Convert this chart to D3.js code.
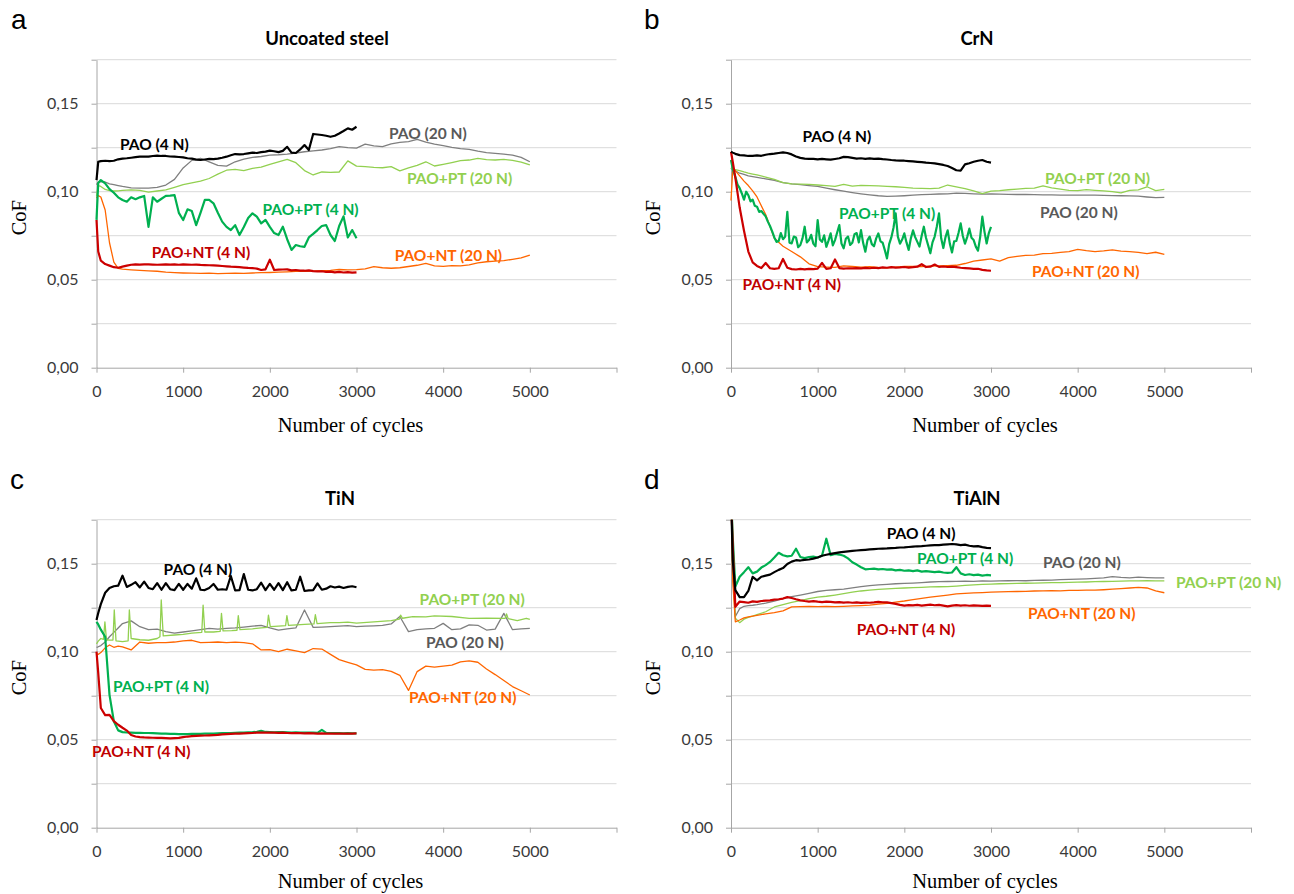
<!DOCTYPE html>
<html>
<head>
<meta charset="utf-8">
<script src="https://cdn.jsdelivr.net/npm/d3@7"></script>
<style>
  body { margin: 0; background: #fff; }
  svg { display: block; }
</style>
</head>
<body>
<svg id="fig" width="1294" height="894"></svg>
<script>
// sampling grids (cycles): 4 N tests run to 3000, 20 N tests run to 5000
const cycles4N = [0,20,50,100,150,200,250,300,350,400,
  450,500,550,600,650,700,750,800,850,900,
  950,1000,1050,1100,1150,1200,1250,1300,1350,1400,
  1450,1500,1550,1600,1650,1700,1750,1800,1850,1900,
  1950,2000,2050,2100,2150,2200,2250,2300,2350,2400,
  2450,2500,2550,2600,2650,2700,2750,2800,2850,2900,
  2950,3000];
const cycles20N = [0,20,50,100,150,200,250,300,400,500,
  600,700,800,900,1000,1100,1200,1300,1400,1500,
  1600,1700,1800,1900,2000,2100,2200,2300,2400,2500,
  2600,2700,2800,2900,3000,3100,3200,3300,3400,3500,
  3600,3700,3800,3900,4000,4100,4200,4300,4400,4500,
  4600,4700,4800,4900,5000];

const seriesNames = ["PAO (4 N)","PAO (20 N)","PAO+PT (4 N)","PAO+PT (20 N)","PAO+NT (4 N)","PAO+NT (20 N)"];
const seriesLoads = [4,20,4,20,4,20];
const lineColors = ["#000000","#7f7f7f","#00b050","#92d050","#cc0000","#ff6600"];
const labelColors = ["#000000","#595959","#00b050","#92d050","#c00000","#ff6600"];

const yTicks = [0,0.025,0.05,0.075,0.1,0.125,0.15,0.175];
const yLabelled = [0,0.05,0.1,0.15];
const xTicks = [0,1000,2000,3000,4000,5000,6000];

// ---- a: uncoated steel
const steelPAO4 = [0.1066,0.117,0.1174,0.1176,0.1174,0.1176,0.1184,0.1188,0.119,0.1193,
  0.1196,0.1199,0.120,0.1199,0.1203,0.1205,0.1203,0.1203,0.120,0.1199,
  0.1197,0.1195,0.119,0.1188,0.1182,0.118,0.1183,0.1186,0.1185,0.1188,
  0.1193,0.1199,0.1207,0.1214,0.1212,0.1214,0.1218,0.1222,0.122,0.1225,
  0.1228,0.1233,0.123,0.1225,0.1232,0.1255,0.1222,0.122,0.124,0.1265,
  0.1237,0.1328,0.1325,0.1322,0.1318,0.1312,0.1318,0.1331,0.1345,0.136,
  0.1352,0.1369];
const steelPAO20 = [0.104,0.1055,0.1058,0.1055,0.1045,0.104,0.1035,0.103,0.1022,0.102,
  0.102,0.1024,0.1038,0.107,0.1135,0.1178,0.119,0.117,0.115,0.1145,
  0.117,0.1185,0.1195,0.120,0.1208,0.121,0.1214,0.122,0.1227,0.1232,
  0.1237,0.1245,0.1256,0.125,0.1248,0.127,0.126,0.1256,0.1272,0.128,
  0.1284,0.1297,0.1282,0.127,0.1262,0.1252,0.1245,0.124,0.123,0.1222,
  0.1218,0.1214,0.1208,0.1195,0.117];
const steelPT4 = [0.084,0.105,0.1066,0.1047,0.1015,0.0994,0.0968,0.0953,0.0943,0.0968,
  0.0957,0.0968,0.0976,0.080,0.0968,0.0943,0.096,0.0976,0.0978,0.0981,
  0.088,0.0839,0.090,0.089,0.081,0.088,0.0953,0.0953,0.0934,0.088,
  0.083,0.080,0.0782,0.081,0.0754,0.080,0.085,0.0877,0.0858,0.082,
  0.084,0.080,0.0765,0.0754,0.0801,0.073,0.0669,0.0697,0.069,0.0687,
  0.074,0.076,0.0782,0.0805,0.081,0.0754,0.072,0.0805,0.086,0.074,
  0.0782,0.0735];
const steelPT20 = [0.0975,0.1035,0.103,0.1013,0.1006,0.1004,0.1005,0.1008,0.101,0.1008,
  0.0998,0.1004,0.101,0.1025,0.104,0.105,0.106,0.1075,0.110,0.1122,
  0.1127,0.112,0.1133,0.114,0.1155,0.117,0.1184,0.1165,0.112,0.1095,
  0.1112,0.111,0.1112,0.1175,0.1145,0.1142,0.1138,0.1136,0.1142,0.1118,
  0.1135,0.115,0.117,0.1146,0.1155,0.1165,0.1176,0.118,0.1189,0.1182,
  0.118,0.1184,0.1178,0.1168,0.1152];
const steelNT4 = [0.0839,0.066,0.0608,0.0589,0.058,0.0571,0.0568,0.0574,0.058,0.0585,
  0.0587,0.0586,0.0587,0.0587,0.0586,0.0585,0.0586,0.0587,0.0586,0.0587,
  0.0585,0.0587,0.0586,0.0585,0.0586,0.0584,0.0583,0.0582,0.0581,0.058,
  0.0578,0.0576,0.0574,0.0573,0.0571,0.0569,0.0567,0.0566,0.0563,0.0555,
  0.0559,0.0614,0.0555,0.0557,0.0558,0.0559,0.0553,0.0555,0.0552,0.0551,
  0.0553,0.0549,0.0547,0.0548,0.0544,0.0546,0.0542,0.0544,0.0541,0.0543,
  0.054,0.0542];
const steelNT20 = [0.0965,0.0978,0.097,0.0896,0.071,0.060,0.0565,0.056,0.0556,0.0553,
  0.055,0.0548,0.0543,0.054,0.0538,0.0537,0.0536,0.0537,0.0535,0.0536,
  0.0537,0.0536,0.0538,0.054,0.0541,0.0543,0.0545,0.0547,0.0548,0.0549,
  0.0551,0.0553,0.0558,0.0556,0.0557,0.0562,0.0574,0.0568,0.0565,0.0568,
  0.0575,0.0582,0.0593,0.0578,0.0576,0.058,0.0578,0.0584,0.0595,0.0602,
  0.0605,0.0608,0.0616,0.0624,0.064];
const steelLabelAt = [[271,0.1271],[3375,0.1332],[1915,0.090],[3583,0.1076],[638,0.0659],[3440,0.064]];

// ---- b: CrN
const crnPAO4 = [0.1227,0.1222,0.1215,0.1208,0.1206,0.1203,0.1204,0.1206,0.1204,0.121,
  0.1214,0.1216,0.122,0.1223,0.122,0.1212,0.12,0.1192,0.1188,0.1186,
  0.1186,0.1184,0.1186,0.1184,0.1182,0.1186,0.119,0.1198,0.1196,0.1192,
  0.1188,0.119,0.1187,0.1189,0.1186,0.1188,0.1185,0.1183,0.118,0.1178,
  0.1177,0.1176,0.1174,0.1172,0.117,0.1168,0.1165,0.1163,0.1161,0.1157,
  0.1152,0.1146,0.1135,0.1122,0.112,0.1155,0.1162,0.117,0.1176,0.118,
  0.117,0.1165];
const crnPAO20 = [0.1135,0.1125,0.1118,0.1105,0.1098,0.109,0.1086,0.1082,0.1073,0.1065,
  0.1052,0.1045,0.104,0.1035,0.103,0.102,0.1011,0.1003,0.0995,0.0988,
  0.0982,0.0977,0.0974,0.0975,0.0977,0.098,0.0983,0.0985,0.0987,0.0988,
  0.0992,0.099,0.0988,0.0986,0.0987,0.0986,0.0985,0.0984,0.0984,0.0983,
  0.0982,0.0982,0.0981,0.0981,0.098,0.0981,0.098,0.0979,0.0978,0.0977,
  0.0976,0.0975,0.097,0.0966,0.0968];
// PAO+PT (4 N) on CrN is very noisy, so it is read at a finer step
const crnPT4Cycles = [0,20,50,75,100,125,150,175,200,225,
  250,275,300,325,350,375,400,425,450,475,
  500,525,550,575,600,625,650,675,700,725,
  750,775,800,825,850,875,900,925,950,975,
  1000,1025,1050,1075,1100,1125,1150,1175,1200,1225,
  1250,1275,1300,1325,1350,1375,1400,1425,1450,1475,
  1500,1525,1550,1575,1600,1625,1650,1675,1700,1725,
  1750,1775,1800,1825,1850,1875,1900,1925,1950,1975,
  2000,2025,2050,2075,2100,2125,2150,2175,2200,2225,
  2250,2275,2300,2325,2350,2375,2400,2425,2450,2475,
  2500,2525,2550,2575,2600,2625,2650,2675,2700,2725,
  2750,2775,2800,2825,2850,2875,2900,2925,2950,2975,
  3000];
const crnPT4 = [0.118,0.113,0.1085,0.104,0.102,0.099,0.0955,0.1,0.098,0.0945,
  0.0955,0.092,0.0915,0.0885,0.089,0.0875,0.086,0.083,0.0805,0.0775,
  0.074,0.0715,0.072,0.0765,0.073,0.0745,0.0886,0.071,0.0706,0.0745,
  0.074,0.0685,0.0697,0.0735,0.0801,0.0712,0.0725,0.0755,0.0705,0.069,
  0.0839,0.0728,0.0715,0.0752,0.0687,0.0722,0.0763,0.0695,0.0725,0.0768,
  0.081,0.0705,0.0678,0.0732,0.0745,0.0698,0.071,0.0758,0.0765,0.0712,
  0.0782,0.0708,0.0659,0.0725,0.0745,0.0702,0.069,0.0735,0.0763,0.0718,
  0.071,0.0668,0.0621,0.0702,0.074,0.0795,0.0877,0.0745,0.0705,0.0728,
  0.0763,0.0712,0.0669,0.0735,0.078,0.0742,0.0715,0.0688,0.075,0.0801,
  0.0738,0.0695,0.065,0.0712,0.0745,0.0802,0.0877,0.0735,0.068,0.0742,
  0.078,0.0705,0.0655,0.0718,0.072,0.0765,0.082,0.0748,0.0705,0.0742,
  0.079,0.0738,0.0725,0.0688,0.0665,0.0742,0.0858,0.0772,0.0706,0.0765,
  0.080];
const crnPT20 = [0.1135,0.1128,0.1125,0.112,0.1112,0.1105,0.11,0.1095,0.1083,0.107,
  0.1052,0.1045,0.1043,0.1042,0.1038,0.1035,0.103,0.1042,0.1032,0.1036,
  0.1035,0.1033,0.103,0.1028,0.1024,0.102,0.1019,0.1018,0.102,0.1038,
  0.1028,0.1018,0.1005,0.0989,0.1003,0.1006,0.1011,0.1015,0.1019,0.102,
  0.1033,0.1022,0.1015,0.1008,0.1006,0.1012,0.1008,0.1005,0.1001,0.0993,
  0.1008,0.101,0.1028,0.1006,0.1013];
const crnNT4 = [0.1227,0.117,0.108,0.091,0.0778,0.066,0.0598,0.0578,0.0566,0.0595,
  0.0565,0.0562,0.0565,0.0618,0.0568,0.056,0.0558,0.0561,0.0559,0.0562,
  0.056,0.0563,0.0595,0.0561,0.0565,0.0615,0.0566,0.0563,0.0565,0.0564,
  0.0566,0.0564,0.0567,0.0565,0.0568,0.0566,0.057,0.0568,0.0571,0.0569,
  0.057,0.0572,0.0569,0.0571,0.0574,0.0588,0.0572,0.0574,0.0586,0.0573,
  0.0575,0.0572,0.0574,0.0571,0.0568,0.0566,0.0564,0.0562,0.0562,0.0556,
  0.0553,0.0551];
const crnNT20 = [0.095,0.1125,0.112,0.109,0.106,0.1035,0.1005,0.097,0.087,0.0735,
  0.069,0.066,0.063,0.059,0.0574,0.0572,0.057,0.0578,0.0575,0.0572,
  0.0574,0.057,0.0568,0.0572,0.0576,0.0575,0.0574,0.0577,0.0578,0.058,
  0.0582,0.0592,0.0605,0.0612,0.0618,0.0605,0.0625,0.0632,0.0638,0.064,
  0.0648,0.065,0.0655,0.066,0.0672,0.0665,0.066,0.0664,0.067,0.0662,
  0.066,0.0655,0.0648,0.0656,0.0644];
const crnLabelAt = [[825,0.1316],[3565,0.0886],[1246,0.0881],[3623,0.108],[133,0.0474],[3473,0.0549]];

// ---- c: TiN
const tinPAO4 = [0.118,0.122,0.127,0.1335,0.1362,0.1372,0.1375,0.1432,0.1368,0.138,
  0.1395,0.1365,0.1398,0.1362,0.1355,0.139,0.1352,0.139,0.1355,0.135,
  0.1385,0.1352,0.1385,0.1358,0.1417,0.1352,0.135,0.1362,0.1385,0.1352,
  0.1355,0.1352,0.143,0.1348,0.135,0.1441,0.1352,0.1348,0.1355,0.1392,
  0.135,0.1385,0.1352,0.139,0.135,0.1395,0.1348,0.1352,0.1426,0.1345,
  0.1348,0.135,0.1388,0.1352,0.1358,0.1372,0.1365,0.137,0.1362,0.1368,
  0.1372,0.1366];
const tinPAO20 = [0.1025,0.1028,0.1035,0.1055,0.1085,0.111,0.1135,0.116,0.1175,0.1142,
  0.1125,0.1128,0.1114,0.1105,0.1112,0.1118,0.1125,0.1133,0.1128,0.1132,
  0.1135,0.114,0.1145,0.115,0.1135,0.1123,0.113,0.1135,0.1237,0.1138,
  0.114,0.1142,0.1145,0.1148,0.1142,0.1145,0.1147,0.115,0.1158,0.12,
  0.1114,0.1125,0.113,0.1133,0.1161,0.1125,0.113,0.1152,0.115,0.1123,
  0.1128,0.1218,0.1125,0.113,0.1133];
const tinPT4 = [0.117,0.1155,0.1125,0.1085,0.0755,0.0605,0.0553,0.0543,0.0541,0.054,
  0.0539,0.0539,0.0538,0.0538,0.0537,0.0536,0.0535,0.0534,0.0533,0.0533,
  0.0532,0.0532,0.0532,0.0533,0.0533,0.0533,0.0534,0.0534,0.0535,0.0536,
  0.0537,0.0538,0.0538,0.0539,0.054,0.0541,0.0542,0.0543,0.0545,0.055,
  0.0544,0.0543,0.0542,0.0543,0.0543,0.0542,0.0541,0.0542,0.0541,0.054,
  0.0541,0.054,0.0539,0.0556,0.0539,0.0538,0.0537,0.0537,0.0536,0.0537,
  0.0536,0.0536];
// PAO+PT (20 N) on TiN has narrow periodic spikes, so it keeps its own sample points
const tinPT20Cycles = [0,20,50,80,97,115,150,190,205,225,
  300,365,379,400,500,600,700,732,747,770,
  900,1000,1100,1215,1230,1250,1350,1427,1442,1460,
  1560,1621,1636,1655,1800,1900,1969,1984,2005,2100,
  2182,2197,2215,2400,2510,2525,2545,2700,2800,2900,
  3000,3200,3400,3495,3509,3530,3650,3800,3900,4100,
  4300,4500,4716,4731,4750,4855,4959,5000];
const tinPT20 = [0.1045,0.106,0.1075,0.107,0.117,0.1068,0.1066,0.1066,0.1237,0.1062,
  0.1057,0.1062,0.1237,0.1075,0.1068,0.1065,0.1075,0.1085,0.1294,0.109,
  0.1095,0.1098,0.1105,0.111,0.1265,0.1112,0.1112,0.1115,0.1218,0.1118,
  0.112,0.1122,0.1205,0.1125,0.113,0.1135,0.1138,0.1208,0.1142,0.1145,
  0.1148,0.1205,0.115,0.1155,0.1158,0.121,0.116,0.1165,0.1165,0.1168,
  0.1162,0.117,0.1176,0.1185,0.1208,0.119,0.1199,0.1198,0.1203,0.12,
  0.1189,0.119,0.1189,0.1215,0.1188,0.1176,0.119,0.1184];
const tinNT4 = [0.100,0.088,0.068,0.064,0.0641,0.0605,0.0585,0.0568,0.0552,0.0527,
  0.0518,0.0515,0.0513,0.0512,0.0511,0.051,0.051,0.0509,0.0508,0.0509,
  0.051,0.0515,0.0518,0.052,0.0522,0.0523,0.0524,0.0525,0.0526,0.0527,
  0.053,0.0532,0.0533,0.0534,0.0535,0.0536,0.0537,0.0538,0.054,0.0541,
  0.054,0.0541,0.054,0.0539,0.054,0.0538,0.0537,0.0538,0.0537,0.0536,
  0.0537,0.0536,0.0535,0.0536,0.0535,0.0534,0.0535,0.0535,0.0534,0.0535,
  0.0535,0.0536];
const tinNT20 = [0.0987,0.0985,0.0995,0.1022,0.1038,0.1025,0.1032,0.1028,0.101,0.1055,
  0.1048,0.1051,0.1052,0.1055,0.1062,0.1065,0.1052,0.1053,0.1055,0.1052,
  0.1054,0.1052,0.1045,0.101,0.1012,0.100,0.1014,0.1005,0.0995,0.1018,
  0.1015,0.0985,0.0955,0.094,0.0925,0.090,0.0895,0.0898,0.0888,0.0866,
  0.078,0.0887,0.0918,0.0912,0.0918,0.0924,0.0942,0.0948,0.094,0.0902,
  0.087,0.0836,0.0802,0.0778,0.0754];
const tinLabelAt = [[774,0.147],[3802,0.1057],[189,0.0805],[3728,0.1298],[-52,0.0436],[3606,0.0744]];

// ---- d: TiAlN
const tialnPAO4 = [0.19,0.152,0.135,0.131,0.131,0.1345,0.1425,0.1405,0.1426,0.1432,
  0.1438,0.1452,0.1465,0.1475,0.1498,0.1512,0.152,0.1518,0.1522,0.1524,
  0.1529,0.1535,0.1545,0.1551,0.1556,0.156,0.1564,0.1567,0.157,0.1573,
  0.1575,0.1577,0.1579,0.1581,0.1583,0.1585,0.1586,0.1587,0.1589,0.159,
  0.1592,0.1593,0.1595,0.1597,0.1599,0.16,0.1602,0.1604,0.1605,0.1606,
  0.1608,0.161,0.1612,0.161,0.1606,0.1608,0.1602,0.1598,0.16,0.1594,
  0.159,0.1588];
const tialnPAO20 = [0.19,0.15,0.12,0.1245,0.1258,0.1262,0.1264,0.1267,0.1276,0.1287,
  0.1302,0.1313,0.1322,0.1332,0.1342,0.1348,0.1352,0.1356,0.1363,0.137,
  0.1376,0.138,0.1383,0.1386,0.1388,0.139,0.1393,0.1396,0.1398,0.1399,
  0.14,0.1401,0.14,0.1402,0.1401,0.1402,0.1403,0.1404,0.1403,0.1405,
  0.1406,0.1407,0.141,0.1411,0.1412,0.1414,0.1417,0.142,0.1426,0.1422,
  0.142,0.1424,0.1421,0.1419,0.142];
const tialnPT4 = [0.19,0.165,0.137,0.1426,0.1452,0.148,0.1445,0.1455,0.1478,0.1492,
  0.151,0.1535,0.1562,0.1548,0.1542,0.1545,0.1585,0.1538,0.1532,0.1538,
  0.154,0.1535,0.1545,0.1642,0.1548,0.1556,0.1552,0.1545,0.153,0.1508,
  0.1495,0.148,0.1468,0.147,0.1472,0.1468,0.147,0.1466,0.1468,0.1462,
  0.1465,0.146,0.1462,0.1458,0.1462,0.1455,0.1458,0.1455,0.1452,0.1455,
  0.145,0.1448,0.145,0.148,0.1445,0.1436,0.144,0.1435,0.1438,0.1432,
  0.1436,0.1434];
const tialnPT20 = [0.19,0.145,0.119,0.1165,0.1185,0.1195,0.1202,0.121,0.1227,0.1254,
  0.1268,0.128,0.129,0.1302,0.131,0.1315,0.1322,0.133,0.1338,0.1345,
  0.135,0.1354,0.1357,0.136,0.1362,0.1364,0.1366,0.1368,0.1369,0.137,
  0.1373,0.1377,0.138,0.1382,0.1384,0.1386,0.1387,0.1388,0.1389,0.139,
  0.1391,0.1392,0.1393,0.1394,0.1395,0.1396,0.1398,0.1399,0.14,0.1401,
  0.1402,0.1402,0.1403,0.1402,0.1402];
const tialnNT4 = [0.19,0.16,0.1255,0.1285,0.1282,0.1278,0.1286,0.1283,0.1288,0.129,
  0.1292,0.1296,0.1298,0.1302,0.131,0.1305,0.1298,0.1292,0.1288,0.1285,
  0.1287,0.1284,0.1282,0.1285,0.1283,0.128,0.1282,0.1279,0.1281,0.1278,
  0.128,0.1277,0.1279,0.1278,0.128,0.1283,0.1281,0.128,0.1276,0.1272,
  0.1266,0.1262,0.1265,0.1263,0.1266,0.1262,0.1265,0.1267,0.1264,0.1266,
  0.1262,0.1258,0.1262,0.1265,0.1262,0.1264,0.1261,0.1263,0.1262,0.126,
  0.1262,0.126];
const tialnNT20 = [0.19,0.14,0.117,0.118,0.1192,0.1198,0.1202,0.1206,0.1215,0.1222,
  0.1232,0.1255,0.1256,0.1257,0.1256,0.1257,0.1256,0.1258,0.126,0.1262,
  0.1265,0.127,0.1275,0.1282,0.1288,0.1296,0.1303,0.131,0.1316,0.1322,
  0.1328,0.1331,0.1334,0.1336,0.1338,0.134,0.1341,0.1342,0.1343,0.1345,
  0.1346,0.1347,0.1346,0.1348,0.1349,0.135,0.135,0.1352,0.1355,0.1358,
  0.1362,0.1366,0.1362,0.1345,0.1335];
const tialnLabelAt = [[1797,0.1673],[3600,0.1508],[2146,0.1531],[5135,0.1398],[1450,0.1129],[3427,0.1218]];

// panel layout (pixels)
const PW = 520, PH = 308;
const panels = [
  {letter:"a", title:"Uncoated steel", left:96.5, top:59.7, titleX:327, letterX:11, xTitleGap:64,
   series:[steelPAO4,steelPAO20,steelPT4,steelPT20,steelNT4,steelNT20], labels:steelLabelAt, cyclesFor:{}},
  {letter:"b", title:"CrN", left:731, top:59.7, titleX:977, letterX:644, xTitleGap:64,
   series:[crnPAO4,crnPAO20,crnPT4,crnPT20,crnNT4,crnNT20], labels:crnLabelAt, cyclesFor:{2: crnPT4Cycles}},
  {letter:"c", title:"TiN", left:96.5, top:519.7, titleX:340, letterX:10, xTitleGap:60,
   series:[tinPAO4,tinPAO20,tinPT4,tinPT20,tinNT4,tinNT20], labels:tinLabelAt, cyclesFor:{3: tinPT20Cycles}},
  {letter:"d", title:"TiAlN", left:731, top:519.7, titleX:977, letterX:644, xTitleGap:60,
   series:[tialnPAO4,tialnPAO20,tialnPT4,tialnPT20,tialnNT4,tialnNT20], labels:tialnLabelAt, cyclesFor:{}}
];
const drawOrder = [1,3,5,2,4,0];

const svg = d3.select("#fig");
const fmtY = d => d3.format(".2f")(d).replace(".", ",");

panels.forEach((p, pi) => {
  const x = d3.scaleLinear().domain([0, 6000]).range([p.left, p.left + PW]);
  const y = d3.scaleLinear().domain([0, 0.175]).range([p.top + PH, p.top]);
  const g = svg.append("g");

  // horizontal gridlines
  g.append("g").selectAll("line")
    .data(yTicks.slice(1)).join("line")
    .attr("x1", x(0)).attr("x2", x(6000))
    .attr("y1", d => y(d)).attr("y2", d => y(d))
    .attr("stroke", "#d9d9d9").attr("stroke-width", 1);

  // axes
  const yAxis = d3.axisLeft(y).tickValues(yTicks).tickSize(5).tickSizeOuter(0).tickPadding(13)
    .tickFormat(d => yLabelled.includes(d) ? fmtY(d) : "");
  const xAxis = d3.axisBottom(x).tickValues(xTicks).tickSize(5).tickSizeOuter(0).tickPadding(13)
    .tickFormat(d => d === 6000 ? "" : d);
  const ya = g.append("g").attr("transform", `translate(${x(0)},0)`).call(yAxis);
  const xa = g.append("g").attr("transform", `translate(0,${y(0)})`).call(xAxis);
  [ya, xa].forEach(a => {
    a.select(".domain").attr("stroke", "#a6a6a6");
    a.selectAll(".tick line").attr("stroke", "#a6a6a6");
    a.selectAll(".tick text").attr("fill", "#3a3a3a")
      .style("font-family", "Lato, 'Open Sans', sans-serif").style("font-size", "16px");
  });

  // series
  const clipId = "clip" + pi;
  svg.append("clipPath").attr("id", clipId).append("rect")
    .attr("x", x(0) - 3).attr("y", y(0.175))
    .attr("width", x(6000) - x(0) + 3).attr("height", y(0) - y(0.175));
  const lines = g.append("g").attr("clip-path", `url(#${clipId})`);
  const line = d3.line().x(d => x(d[0])).y(d => y(d[1]));
  drawOrder.forEach(si => {
    const cyc = p.cyclesFor[si] || (seriesLoads[si] === 4 ? cycles4N : cycles20N);
    lines.append("path")
      .datum(d3.zip(cyc, p.series[si]))
      .attr("d", line)
      .attr("fill", "none")
      .attr("stroke", lineColors[si])
      .attr("stroke-width", seriesLoads[si] === 4 ? 2.2 : 1.3)
      .attr("stroke-linejoin", "round");
  });

  // series labels
  g.append("g").selectAll("text")
    .data(p.labels).join("text")
    .attr("x", d => x(d[0])).attr("y", d => y(d[1]))
    .attr("dominant-baseline", "central")
    .attr("fill", (d, i) => labelColors[i])
    .style("font-family", "Lato, 'Open Sans', sans-serif")
    .style("font-weight", "bold").style("font-size", "15.5px")
    .text((d, i) => seriesNames[i]);

  // titles
  g.append("text").attr("x", p.titleX).attr("y", p.top - 22)
    .attr("text-anchor", "middle").attr("dominant-baseline", "central")
    .style("font-family", "Lato, sans-serif").style("font-weight", "bold").style("font-size", "18.5px")
    .text(p.title);
  g.append("text").attr("x", p.letterX).attr("y", p.top - 31)
    .style("font-family", "'Liberation Sans', Arial, sans-serif").style("font-size", "28px")
    .text(p.letter);
  g.append("text").attr("x", p.left + 254).attr("y", y(0) + p.xTitleGap)
    .attr("text-anchor", "middle")
    .style("font-family", "'Liberation Serif', serif").style("font-size", "20.5px")
    .text("Number of cycles");
  g.append("text")
    .attr("transform", `translate(${p.left - 78},${p.top + 158}) rotate(-90)`)
    .attr("text-anchor", "middle").attr("dominant-baseline", "central")
    .style("font-family", "'Liberation Serif', serif").style("font-size", "20.5px")
    .text("CoF");
});
</script>
</body>
</html>
